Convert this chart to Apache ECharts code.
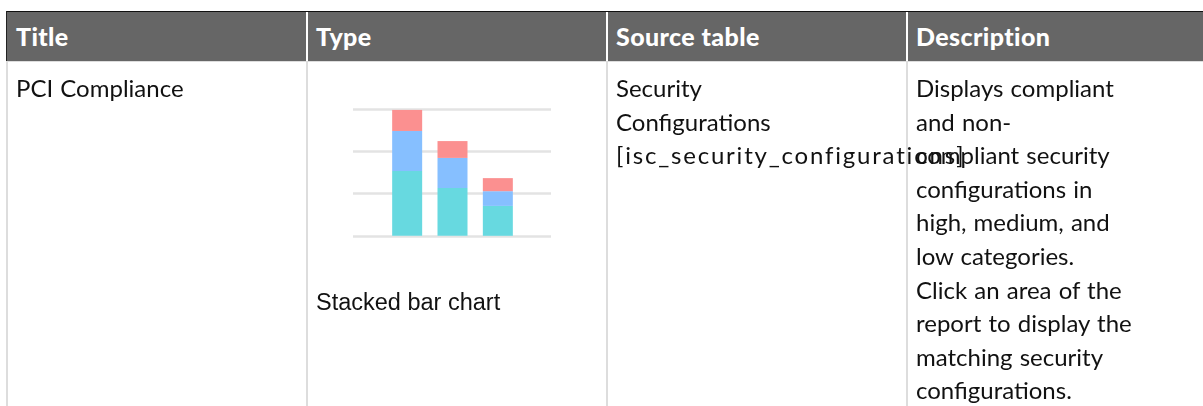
<!DOCTYPE html>
<html>
<head>
<meta charset="utf-8">
<script src="https://cdn.jsdelivr.net/npm/echarts@6/dist/echarts.min.js"></script>
<style>
  html, body { margin: 0; padding: 0; background: #fff; }
  body { width: 1203px; height: 406px; position: relative; overflow: hidden; }
  #chart { position: absolute; left: 0; top: 0; width: 1203px; height: 406px; }
  .hdr { position: absolute; left: 6px; top: 11px; width: 1200px; height: 49px;
         background: #666; border-top: 1px solid #111; }
  .hdrline { position: absolute; left: 6px; top: 61px; width: 1200px; height: 1px; background: #ddd; }
  .vl { position: absolute; width: 2px; }
  .ht { position: absolute; top: 12px; height: 49px; line-height: 49px; color: #fff;
        font-family: Lato, "Open Sans", sans-serif; font-weight: 900; font-size: 25px; letter-spacing: 0.4px; }
  .bt { position: absolute; font-family: Lato, sans-serif; font-size: 24px; line-height: 33.6px;
        color: #111; white-space: nowrap; word-spacing: 1px; }
  .ar { font-family: "Liberation Sans", Arial, sans-serif; font-size: 23.5px; word-spacing: 0; }
</style>
</head>
<body>
<div id="chart"></div>
<div class="hdr"></div>
<div class="hdrline"></div>
<div class="vl" style="left:6px;top:11px;height:50px;width:1px;background:#222"></div>
<div class="vl" style="left:6px;top:62px;height:344px;background:#ddd"></div>
<div class="vl" style="left:306px;top:12px;height:49px;background:#fff"></div>
<div class="vl" style="left:606px;top:12px;height:49px;background:#fff"></div>
<div class="vl" style="left:906px;top:12px;height:49px;background:#fff"></div>
<div class="vl" style="left:306px;top:62px;height:344px;background:#ddd"></div>
<div class="vl" style="left:606px;top:62px;height:344px;background:#ddd"></div>
<div class="vl" style="left:906px;top:62px;height:344px;background:#ddd"></div>

<div id="headers"></div>
<div id="cells"></div>

<script>
// ---- table text ----
const columnHeaders = ["Title", "Type", "Source table", "Description"];
const titleLines = ["PCI Compliance"];
const typeLabel = "Stacked bar chart";
const sourceLines = ["Security", "Configurations", "[isc_security_configurations]"];
const descriptionLines = ["Displays compliant", "and non-", "compliant security", "configurations in",
  "high, medium, and", "low categories.", "Click an area of the", "report to display the",
  "matching security", "configurations."];

// ---- chart data ----
const categories = ["High", "Medium", "Low"];
const seriesNames = ["Compliant", "Non-compliant", "Other"];
const compliantValues = [15.4, 11.35, 7.1];
const nonCompliantValues = [9.5, 7.15, 3.5];
const otherValues = [5.0, 4.0, 3.1];
const yTicks = [0, 10, 20, 30];

// build header & cells
const colX = [16, 316, 616, 916];
const hd = document.getElementById('headers');
columnHeaders.forEach((h, i) => {
  const d = document.createElement('div');
  d.className = 'ht'; d.style.left = colX[i] + 'px'; d.textContent = h; hd.appendChild(d);
});
const cells = document.getElementById('cells');
function addBlock(lines, x, y, cls) {
  const d = document.createElement('div');
  d.className = 'bt' + (cls ? ' ' + cls : '');
  d.style.left = x + 'px'; d.style.top = y + 'px';
  lines.forEach((l, i) => {
    if (i) d.appendChild(document.createElement('br'));
    const s = document.createElement('span');
    s.textContent = l;
    if (l.startsWith('[')) s.style.letterSpacing = '1.8px';
    d.appendChild(s);
  });
  cells.appendChild(d);
}
addBlock(titleLines, colX[0], 71);
addBlock(sourceLines, colX[2], 71);
addBlock(descriptionLines, colX[3], 71);
addBlock([typeLabel], colX[1], 286, 'ar');

// chart
const chart = echarts.init(document.getElementById('chart'), null, { renderer: 'canvas' });
const gridTop = 109.5, gridBottom = 406 - 235.8;
const colors = ['#67d9e0', '#86bfff', '#fb9090'];
chart.setOption({
  animation: false,
  backgroundColor: 'transparent',
  grid: [
    { left: 353, right: 1203 - 551, top: gridTop, bottom: gridBottom },
    { left: 384.5, right: 1203 - 520.5, top: gridTop, bottom: gridBottom }
  ],
  xAxis: [
    { gridIndex: 0, type: 'category', data: categories, show: false },
    { gridIndex: 1, type: 'category', data: categories, show: false }
  ],
  yAxis: [
    { gridIndex: 0, type: 'value', min: yTicks[0], max: yTicks[yTicks.length - 1], interval: 10,
      axisLine: { show: false }, axisTick: { show: false }, axisLabel: { show: false },
      splitLine: { show: true, lineStyle: { color: '#e3e3e3', width: 2.5 } } },
    { gridIndex: 1, type: 'value', min: yTicks[0], max: yTicks[yTicks.length - 1], interval: 10,
      show: false, splitLine: { show: false } }
  ],
  series: [compliantValues, nonCompliantValues, otherValues].map((vals, i) => ({
    name: seriesNames[i], type: 'bar', stack: 'total', xAxisIndex: 1, yAxisIndex: 1,
    barWidth: 30, data: vals, itemStyle: { color: colors[i] }
  }))
});
</script>
</body>
</html>
